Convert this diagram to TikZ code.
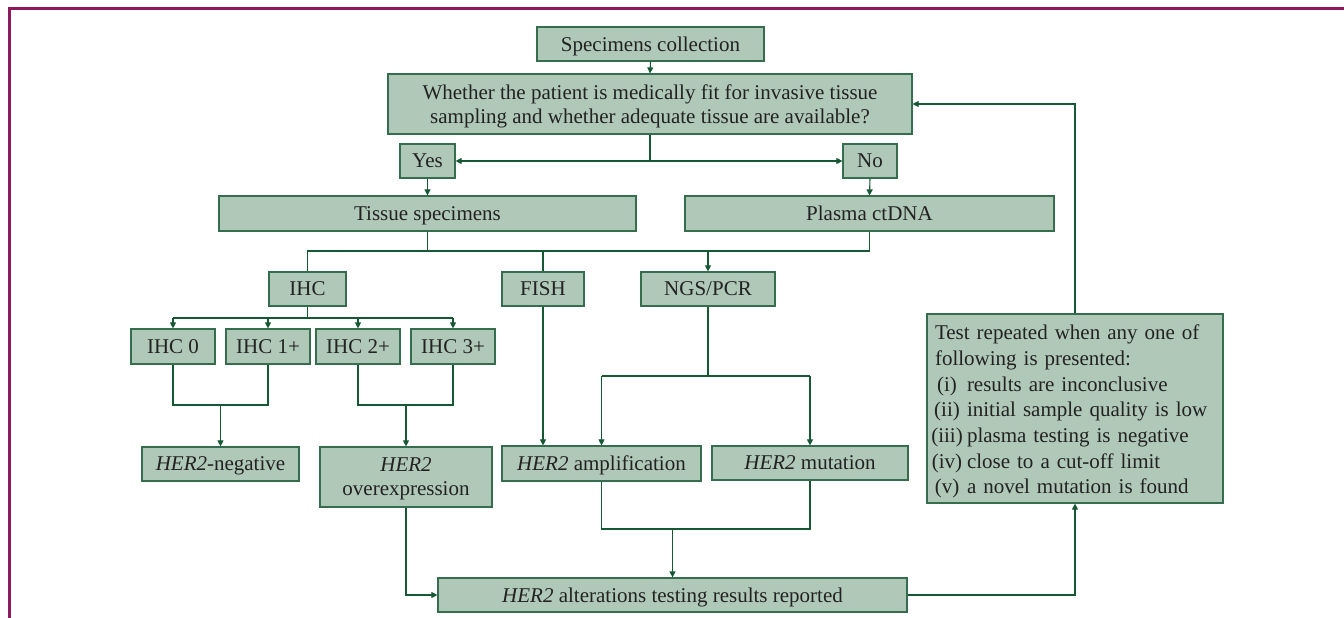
\documentclass[tikz,border=0pt]{standalone}
\usepackage{fontspec}
\setmainfont{Liberation Serif}
\usetikzlibrary{arrows.meta}
\definecolor{boxfill}{RGB}{176,200,184}
\definecolor{boxline}{RGB}{52,110,78}
\definecolor{conn}{RGB}{22,88,52}
\definecolor{txt}{RGB}{34,34,34}
\definecolor{frame}{RGB}{140,26,92}
\tikzset{
  box/.style={draw=boxline, fill=boxfill, line width=1.2pt, inner sep=0pt, text=txt, align=center,
    text depth=0pt, font=\fontsize{21}{24}\selectfont},
  conline/.style={draw=conn, line width=1.1pt},
  arr/.style={conline, -{Triangle[length=6pt,width=6pt]}},
}
\newcommand{\lbl}[1]{\hspace*{-6pt}\makebox[36pt][c]{#1}\hspace{2pt}}
\begin{document}
\begin{tikzpicture}[x=1pt,y=-1pt]
\useasboundingbox (0,0) rectangle (1344,618);
\draw[frame, line width=3pt] (1344,9) -- (9,9) -- (9,618);

\node[box, minimum width=227, minimum height=34] (sc) at (650.5,44) {Specimens collection};
\node[box, minimum width=524, minimum height=60] (q) at (650,104) {Whether the patient is medically fit for invasive tissue\\sampling and whether adequate tissue are available?};
\node[box, minimum width=55, minimum height=34] (yes) at (427.5,161) {Yes};
\node[box, minimum width=54, minimum height=34] (no) at (870,161) {No};
\node[box, minimum width=417, minimum height=35] (tis) at (427.5,213.5) {Tissue specimens};
\node[box, minimum width=369, minimum height=35] (pla) at (869.5,213.5) {Plasma ctDNA};
\node[box, minimum width=77, minimum height=34] (ihc) at (307.5,289) {IHC};
\node[box, minimum width=82, minimum height=34] (fish) at (543,289) {FISH};
\node[box, minimum width=134, minimum height=34] (ngs) at (708,289) {NGS/PCR};
\node[box, minimum width=84, minimum height=35] (i0) at (173,346.5) {IHC 0};
\node[box, minimum width=84, minimum height=35] (i1) at (268,346.5) {IHC 1+};
\node[box, minimum width=84, minimum height=35] (i2) at (358,346.5) {IHC 2+};
\node[box, minimum width=84, minimum height=35] (i3) at (453,346.5) {IHC 3+};
\node[box, minimum width=157, minimum height=34] (neg) at (220.5,464) {\textit{HER2}-negative};
\node[box, minimum width=172, minimum height=60] (ove) at (406,477) {\textit{HER2}\\overexpression};
\node[box, minimum width=199, minimum height=35] (amp) at (601.5,463.5) {\textit{HER2} amplification};
\node[box, minimum width=196, minimum height=34] (mut) at (810,463) {\textit{HER2} mutation};
\node[box, minimum width=469, minimum height=34] (rep) at (672.5,595) {\textit{HER2} alterations testing results reported};
\node[box, text depth={}, minimum width=296, minimum height=189, text width=280, align=left,
      font=\fontsize{21}{25.7}\selectfont] (test) at (1075,408.5)
  {\rule{0pt}{21pt}Test repeated when any one of\\following is presented:\\
   \lbl{(i)}results are inconclusive\\
   \lbl{(ii)}initial sample quality is low\\
   \lbl{(iii)}plasma testing is negative\\
   \lbl{(iv)}close to a cut-off limit\\
   \lbl{(v)}a novel mutation is found};

\coordinate (b1) at (0,251);
\coordinate (b2) at (0,318);
\coordinate (b3) at (0,405);
\coordinate (b4) at (0,376);
\coordinate (b5) at (0,529);

\draw[arr] (sc.south) -- (q.north);
\draw[arr] (q.south) |- (yes.east);
\draw[arr] (q.south) |- (no.west);
\draw[arr] (yes.south) -- (tis.north);
\draw[arr] (no.south) -- (pla.north);

\draw[conline] (ihc.north) -- (ihc.north |- b1) -| (pla.south);
\draw[conline] (tis.south) -- (tis.south |- b1);
\draw[conline] (fish.north) -- (fish.north |- b1);
\draw[arr] (ngs.north |- b1) -- (ngs.north);

\draw[conline] (ihc.south) -- (ihc.south |- b2);
\draw[conline] (i0.north |- b2) -- (i3.north |- b2);
\draw[arr] (i0.north |- b2) -- (i0.north);
\draw[arr] (i1.north |- b2) -- (i1.north);
\draw[arr] (i2.north |- b2) -- (i2.north);
\draw[arr] (i3.north |- b2) -- (i3.north);

\draw[conline] (i0.south) -- (i0.south |- b3) -- (i1.south |- b3) -- (i1.south);
\draw[arr] (neg.north |- b3) -- (neg.north);
\draw[conline] (i2.south) -- (i2.south |- b3) -- (i3.south |- b3) -- (i3.south);
\draw[arr] (ove.north |- b3) -- (ove.north);

\draw[arr] (fish.south) -- (fish.south |- amp.north);
\draw[conline] (ngs.south) -- (ngs.south |- b4);
\draw[conline] (amp.north |- b4) -- (mut.north |- b4);
\draw[arr] (amp.north |- b4) -- (amp.north);
\draw[arr] (mut.north |- b4) -- (mut.north);

\draw[conline] (amp.south) -- (amp.south |- b5) -- (mut.south |- b5) -- (mut.south);
\draw[arr] (rep.north |- b5) -- (rep.north);

\draw[arr] (ove.south) |- (rep.west);
\draw[arr] (rep.east) -| (test.south);
\draw[arr] (test.north) |- (q.east);
\end{tikzpicture}
\end{document}
